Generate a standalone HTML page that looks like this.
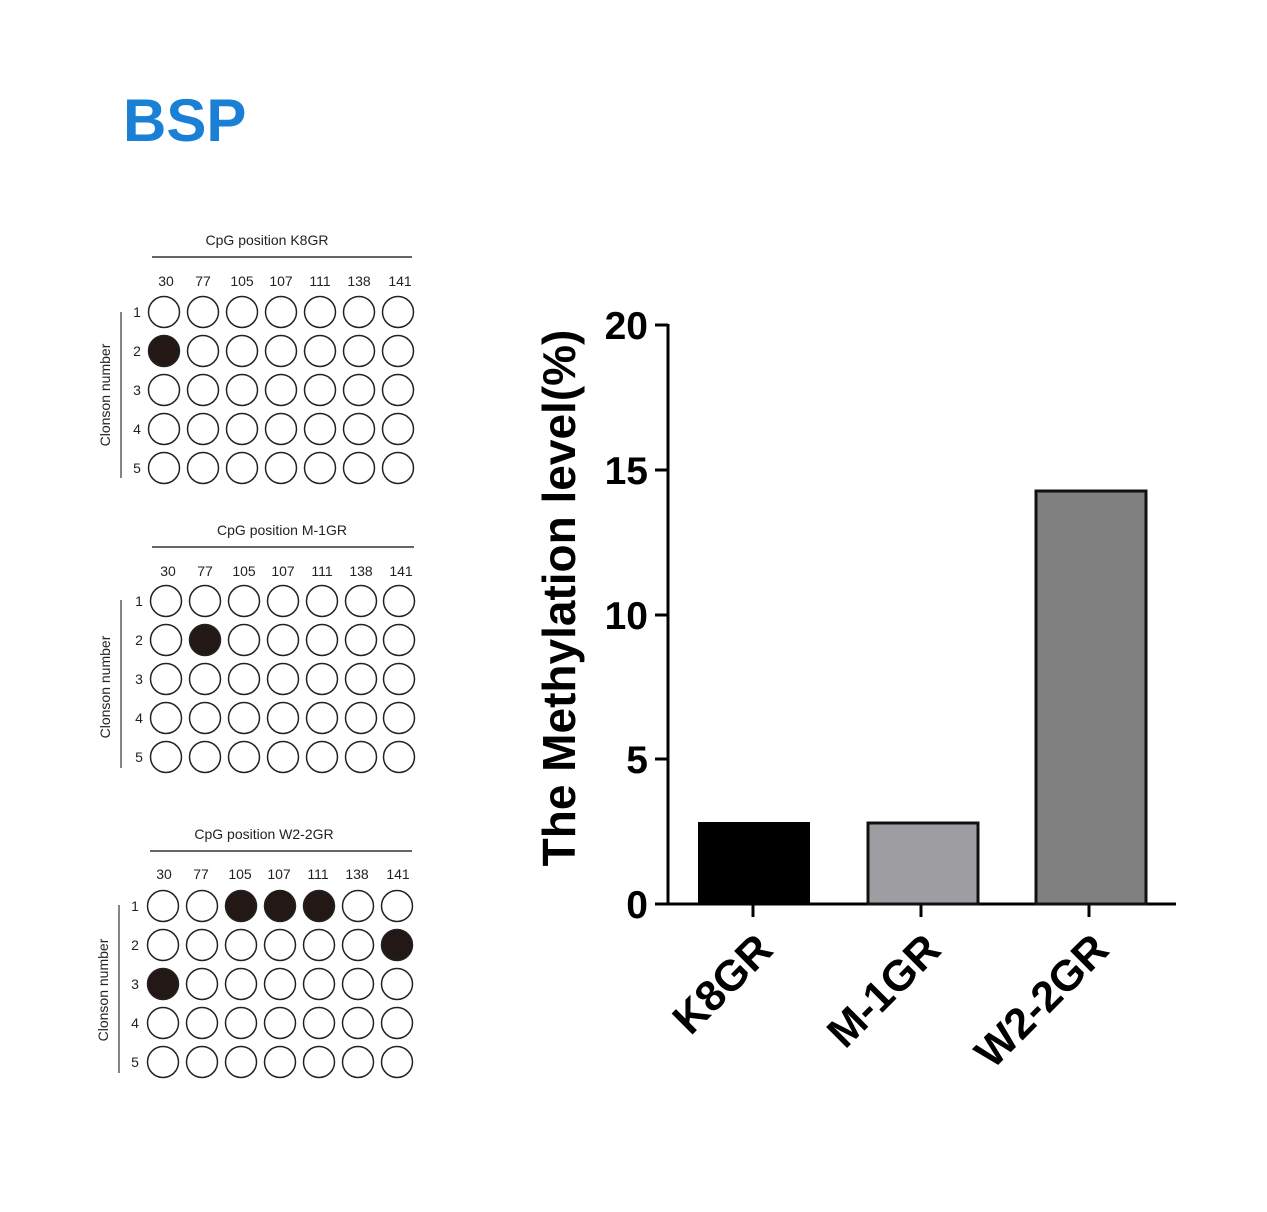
<!DOCTYPE html>
<html><head><style>body{margin:0;background:#fff}</style></head><body>
<svg width="1267" height="1207" xmlns="http://www.w3.org/2000/svg" font-family="Liberation Sans, sans-serif">
<text x="123" y="141" font-size="60" font-weight="bold" fill="#1a80d6">BSP</text>
<g id="panels" font-size="14" fill="#222">
<!-- panel 1 -->
<text x="267" y="245" text-anchor="middle">CpG position  K8GR</text>
<line x1="152" y1="257" x2="412" y2="257" stroke="#333" stroke-width="1.5"/>
<g text-anchor="middle">
<text x="166" y="286">30</text><text x="203" y="286">77</text><text x="242" y="286">105</text><text x="281" y="286">107</text><text x="320" y="286">111</text><text x="359" y="286">138</text><text x="400" y="286">141</text>
<text x="137" y="317">1</text><text x="137" y="356">2</text><text x="137" y="395">3</text><text x="137" y="434">4</text><text x="137" y="473">5</text>
</g>
<line x1="121" y1="312" x2="121" y2="478" stroke="#333" stroke-width="1.2"/>
<text transform="translate(110,395) rotate(-90)" text-anchor="middle">Clonson number</text>
<!-- panel 2 -->
<text x="282" y="535" text-anchor="middle">CpG position  M-1GR</text>
<line x1="152" y1="547" x2="414" y2="547" stroke="#333" stroke-width="1.5"/>
<g text-anchor="middle">
<text x="168" y="576">30</text><text x="205" y="576">77</text><text x="244" y="576">105</text><text x="283" y="576">107</text><text x="322" y="576">111</text><text x="361" y="576">138</text><text x="401" y="576">141</text>
<text x="139" y="606">1</text><text x="139" y="645">2</text><text x="139" y="684">3</text><text x="139" y="723">4</text><text x="139" y="762">5</text>
</g>
<line x1="121" y1="600" x2="121" y2="768" stroke="#333" stroke-width="1.2"/>
<text transform="translate(110,687) rotate(-90)" text-anchor="middle">Clonson number</text>
<!-- panel 3 -->
<text x="264" y="839" text-anchor="middle">CpG position  W2-2GR</text>
<line x1="150" y1="851" x2="412" y2="851" stroke="#333" stroke-width="1.5"/>
<g text-anchor="middle">
<text x="164" y="879">30</text><text x="201" y="879">77</text><text x="240" y="879">105</text><text x="279" y="879">107</text><text x="318" y="879">111</text><text x="357" y="879">138</text><text x="398" y="879">141</text>
<text x="135" y="911">1</text><text x="135" y="950">2</text><text x="135" y="989">3</text><text x="135" y="1028">4</text><text x="135" y="1067">5</text>
</g>
<line x1="119" y1="905" x2="119" y2="1073" stroke="#333" stroke-width="1.2"/>
<text transform="translate(108,990) rotate(-90)" text-anchor="middle">Clonson number</text>
</g>
<g id="c" stroke="#222" stroke-width="1.5" fill="none"></g>
<!-- bar chart -->
<g stroke="#000" stroke-width="3">
<line x1="668" y1="324" x2="668" y2="904"/>
<line x1="655" y1="904" x2="1176" y2="904"/>
<line x1="655" y1="325" x2="668" y2="325"/><line x1="655" y1="470" x2="668" y2="470"/><line x1="655" y1="615" x2="668" y2="615"/><line x1="655" y1="759" x2="668" y2="759"/>
<line x1="753" y1="904" x2="753" y2="917"/><line x1="921" y1="904" x2="921" y2="917"/><line x1="1089" y1="904" x2="1089" y2="917"/>
</g>
<rect x="699" y="823" width="110" height="81" fill="#000" stroke="#000" stroke-width="2"/>
<rect x="868" y="823" width="110" height="81" fill="#9e9ea2" stroke="#111" stroke-width="3"/>
<rect x="1036" y="491" width="110" height="413" fill="#808080" stroke="#111" stroke-width="3"/>
<g font-size="39" font-weight="bold" text-anchor="end">
<text x="648" y="339">20</text><text x="648" y="484">15</text><text x="648" y="629">10</text><text x="648" y="773">5</text><text x="648" y="918">0</text>
</g>
<text transform="translate(575,598) rotate(-90)" font-size="46" font-weight="bold" text-anchor="middle">The Methylation level(%)</text>
<g font-size="43" font-weight="bold" text-anchor="end">
<text transform="translate(775,952) rotate(-45)">K8GR</text>
<text transform="translate(943,952) rotate(-45)">M-1GR</text>
<text transform="translate(1111,952) rotate(-45)">W2-2GR</text>
</g>
<script>
var g=document.getElementById('c');
var P=[{xs:[164,203,242,281,320,359,398],ys:[312,351,390,429,468],f:[[1,0]]},
{xs:[166,205,244,283,322,361,399],ys:[601,640,679,718,757],f:[[1,1]]},
{xs:[163,202,241,280,319,358,397],ys:[906,945,984,1023,1062],f:[[0,2],[0,3],[0,4],[1,6],[2,0]]}];
P.forEach(function(p){p.ys.forEach(function(y,r){p.xs.forEach(function(x,c){
var fill=p.f.some(function(a){return a[0]==r&&a[1]==c});
var e=document.createElementNS('http://www.w3.org/2000/svg','circle');
e.setAttribute('cx',x);e.setAttribute('cy',y);e.setAttribute('r',15.5);
if(fill){e.setAttribute('fill','#231815');}
g.appendChild(e);});});});
</script>
</svg>
</body></html>
